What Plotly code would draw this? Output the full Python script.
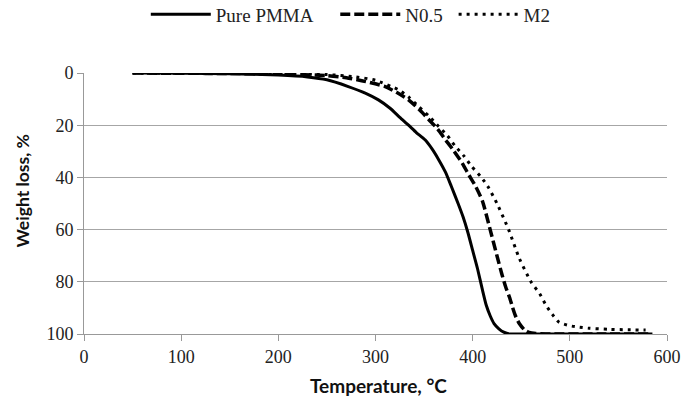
import plotly.graph_objects as go

# Pure PMMA (solid)
pmma_t = [50, 100, 150, 200, 230, 250, 272, 290, 303, 315, 325, 334, 342, 351, 358, 365, 372, 378,
          385, 390, 395, 400, 405, 410, 414, 418, 422, 427, 432, 438, 450, 500, 550, 585]
pmma_y = [0, 0.1, 0.3, 0.8, 1.5, 2.6, 5.2, 7.8, 10.3, 13.5, 17, 20, 22.8, 25.6, 29, 33.2, 38, 43.4,
          50, 55, 61, 68, 75, 83, 89, 93, 96, 98, 99.3, 100, 100, 100, 100, 100]

# N0.5 (dashed)
n05_t = [50, 100, 150, 200, 250, 270, 290, 310, 322, 334, 345, 355, 364, 372, 380, 389, 396, 403,
         410, 418, 425, 430, 434, 438, 441, 444, 448, 453, 458, 465, 480, 530, 583]
n05_y = [0, 0.1, 0.2, 0.4, 1.0, 1.8, 3.3, 5.2, 7.5, 10.3, 14, 17.9, 21.5, 25.6, 29.5, 34.4, 39, 43.4,
         49, 60, 70, 77, 82, 86, 89.7, 93, 96, 98.3, 99.4, 99.8, 100, 100, 100]

# M2 (dotted)
m2_t = [50, 100, 150, 200, 250, 280, 300, 324, 335, 344.5, 355, 365, 374, 382, 391, 399, 409, 416.5,
        425, 437, 448, 460, 469, 475.5, 482, 489, 499.5, 510, 520, 540, 560, 578]
m2_y = [0, 0.1, 0.2, 0.3, 0.6, 1.5, 2.8, 6.5, 9.5, 12.9, 16.5, 20.5, 24, 28, 31.8, 35.8, 40, 44,
        50, 60, 71, 80, 84.6, 89, 92.5, 95.5, 96.8, 97.4, 97.8, 98.2, 98.4, 98.5]

x_ticks = [0, 100, 200, 300, 400, 500, 600]
y_ticks = [0, 20, 40, 60, 80, 100]

fig = go.Figure()
fig.add_trace(go.Scatter(x=pmma_t, y=pmma_y, mode="lines", name="Pure PMMA", legend="legend",
                         line=dict(color="black", width=3, shape="spline", smoothing=0.6)))
fig.add_trace(go.Scatter(x=n05_t, y=n05_y, mode="lines", name="N0.5", legend="legend2",
                         line=dict(color="black", width=3.5, dash="10px,4px", shape="spline", smoothing=0.6)))
fig.add_trace(go.Scatter(x=m2_t, y=m2_y, mode="lines", name="M2", legend="legend3",
                         line=dict(color="black", width=3, dash="3px,5px", shape="spline", smoothing=0.6)))

serif = "Liberation Serif"
sans = "Lato"

def leg(x):
    return dict(orientation="h", x=x, xanchor="left", y=1.225, yref="paper", yanchor="middle",
                font=dict(family=serif, size=19, color="#222"), itemwidth=60,
                bgcolor="rgba(0,0,0,0)")

fig.update_layout(
    width=684, height=396,
    margin=dict(l=84, r=17, t=73, b=62, autoexpand=False),
    paper_bgcolor="white", plot_bgcolor="white",
    font=dict(family=serif, size=18, color="#222"),
    legend=leg(0.106), legend2=leg(0.431), legend3=leg(0.634),
    showlegend=True,
    annotations=[
        dict(text="<b>Temperature, °C</b>", xref="paper", yref="paper", x=0.505, y=0,
             xanchor="center", yanchor="middle", yshift=-51, showarrow=False,
             font=dict(family=sans, size=19, color="#111")),
        dict(text="<b>Weight loss, %</b>", xref="paper", yref="paper", x=0, y=0.548,
             xanchor="center", yanchor="middle", xshift=-61.5, textangle=-90, showarrow=False,
             font=dict(family=sans, size=17.5, color="#111")),
    ],
)
fig.update_xaxes(range=[0, 600], tickvals=x_ticks, ticks="outside", ticklen=6, tickcolor="#999",
                 showline=True, linecolor="#999", linewidth=1, showgrid=False, zeroline=False,
                 automargin=False,
                 tickfont=dict(family=serif, size=18, color="#222"))
fig.update_yaxes(range=[100, 0], tickvals=y_ticks, ticks="outside", ticklen=6, tickcolor="#999",
                 showline=True, linecolor="#999", linewidth=1, showgrid=True, gridcolor="#a6a6a6",
                 gridwidth=1, zeroline=False, automargin=False,
                 tickfont=dict(family=serif, size=18, color="#222"))

fig.write_html("out.html", config={"displayModeBar": False},
               post_script="document.body.style.margin='0';document.body.style.overflow='hidden';")
